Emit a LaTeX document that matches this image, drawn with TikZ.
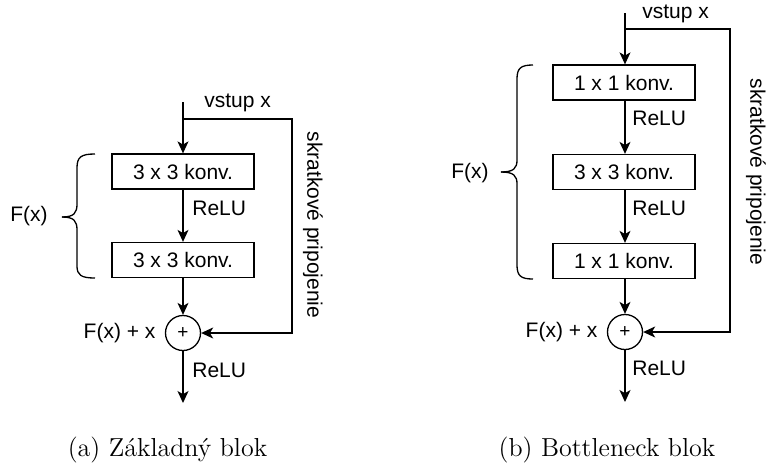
\documentclass[tikz,border=0pt]{standalone}
\usepackage{fontspec}
\newfontfamily\arialfont{Liberation Sans}
\usetikzlibrary{arrows.meta,positioning}

\tikzset{
  konv/.style={draw, line width=0.65pt, minimum width=71pt, minimum height=17.5pt,
    inner sep=0pt, font=\arialfont\fontsize{10.5}{12}\selectfont},
  sumnode/.style={draw, circle, line width=0.65pt, minimum size=17.5pt, inner sep=0pt,
    font=\arialfont\fontsize{9.5}{10}\selectfont},
  lbl/.style={inner sep=1pt, font=\arialfont\fontsize{10.5}{12}\selectfont},
  flow/.style={line width=0.65pt, -{Stealth[length=6pt,width=5.5pt,inset=1.6pt]}},
  line/.style={line width=0.65pt},
  caption/.style={inner sep=0pt, font=\fontsize{13}{15}\selectfont}
}

\begin{document}
\begin{tikzpicture}[x=0.5pt,y=-0.5pt]
  \useasboundingbox (0,0) rectangle (768,473);
  % (a) Basic block
  \coordinate (inA) at (183,102);
  \coordinate (brA) at (183,119);
  \coordinate (scA) at (292,333);
  \coordinate (outA) at (183,403);
  \node[konv] (a1) at (183,171.5) {3 x 3 konv.};
  \node[konv] (a2) at (183,260) {3 x 3 konv.};
  \node[sumnode] (sumA) at (183,333) {+};
  \draw[line] (inA) -- (brA);
  \draw[flow] (brA) -- (a1);
  \draw[flow] (a1) -- (a2);
  \draw[flow] (a2) -- (sumA);
  \draw[flow] (sumA) -- (outA);
  % Shortcut
  \draw[flow] (brA) -| (scA) -- (sumA);
  % Labels
  \node[lbl, anchor=west] (vstA) at (202,103) {vstup x};
  \node[lbl, anchor=west] (reluA1) at (190,208) {ReLU};
  \node[lbl, anchor=west] (reluA2) at (190,370) {ReLU};
  \node[lbl, left=3.5pt of sumA] (addA) {F(x) + x};
  \node[lbl, rotate=-90] (scLabA) at (313,225) {skratkové pripojenie};
  % Brace F(x)
  \draw[line] (95,154) .. controls (81,154) and (77,157) .. (77,168) -- (77,204)
    .. controls (77,213) and (74,217) .. (62,217);
  \draw[line] (95,278) .. controls (81,278) and (77,275) .. (77,266) -- (77,230)
    .. controls (77,221) and (74,217) .. (62,217);
  \node[lbl, anchor=east] (fxA) at (50,216) {F(x)};
  \node[caption] (capA) at (167.5,450) {(a) Základný blok};

  % (b) Bottleneck block
  \coordinate (inB) at (625,13);
  \coordinate (brB) at (625,29);
  \coordinate (scB) at (730,332);
  \coordinate (outB) at (625,402);
  \node[konv] (b1) at (624,82.5) {1 x 1 konv.};
  \node[konv] (b2) at (624,172) {3 x 3 konv.};
  \node[konv] (b3) at (624,261) {1 x 1 konv.};
  \node[sumnode] (sumB) at (625,332) {+};
  \draw[line] (inB) -- (brB);
  \draw[flow] (brB) -- (b1.north -| brB);
  \draw[flow] (b1.south -| brB) -- (b2.north -| brB);
  \draw[flow] (b2.south -| brB) -- (b3.north -| brB);
  \draw[flow] (b3.south -| brB) -- (sumB);
  \draw[flow] (sumB) -- (outB);
  % Shortcut
  \draw[flow] (brB) -| (scB) -- (sumB);
  % Labels
  \node[lbl, anchor=west] (vstB) at (640,14) {vstup x};
  \node[lbl, anchor=west] (reluB1) at (630,118) {ReLU};
  \node[lbl, anchor=west] (reluB2) at (630,208) {ReLU};
  \node[lbl, anchor=west] (reluB3) at (630,368) {ReLU};
  \node[lbl, left=3.5pt of sumB] (addB) {F(x) + x};
  \node[lbl, rotate=-90, inner sep=0pt] (scLabB) at (756,172) {skratkové pripojenie};
  % Brace F(x)
  \draw[line] (533,65) .. controls (521,65) and (517,68) .. (517,79) -- (517,160)
    .. controls (517,168) and (514,172) .. (501,172);
  \draw[line] (533,279) .. controls (521,279) and (517,276) .. (517,265) -- (517,184)
    .. controls (517,176) and (514,172) .. (501,172);
  \node[lbl, anchor=east] (fxB) at (491,173) {F(x)};
  \node[caption] (capB) at (607,450) {(b) Bottleneck blok};
\end{tikzpicture}
\end{document}
